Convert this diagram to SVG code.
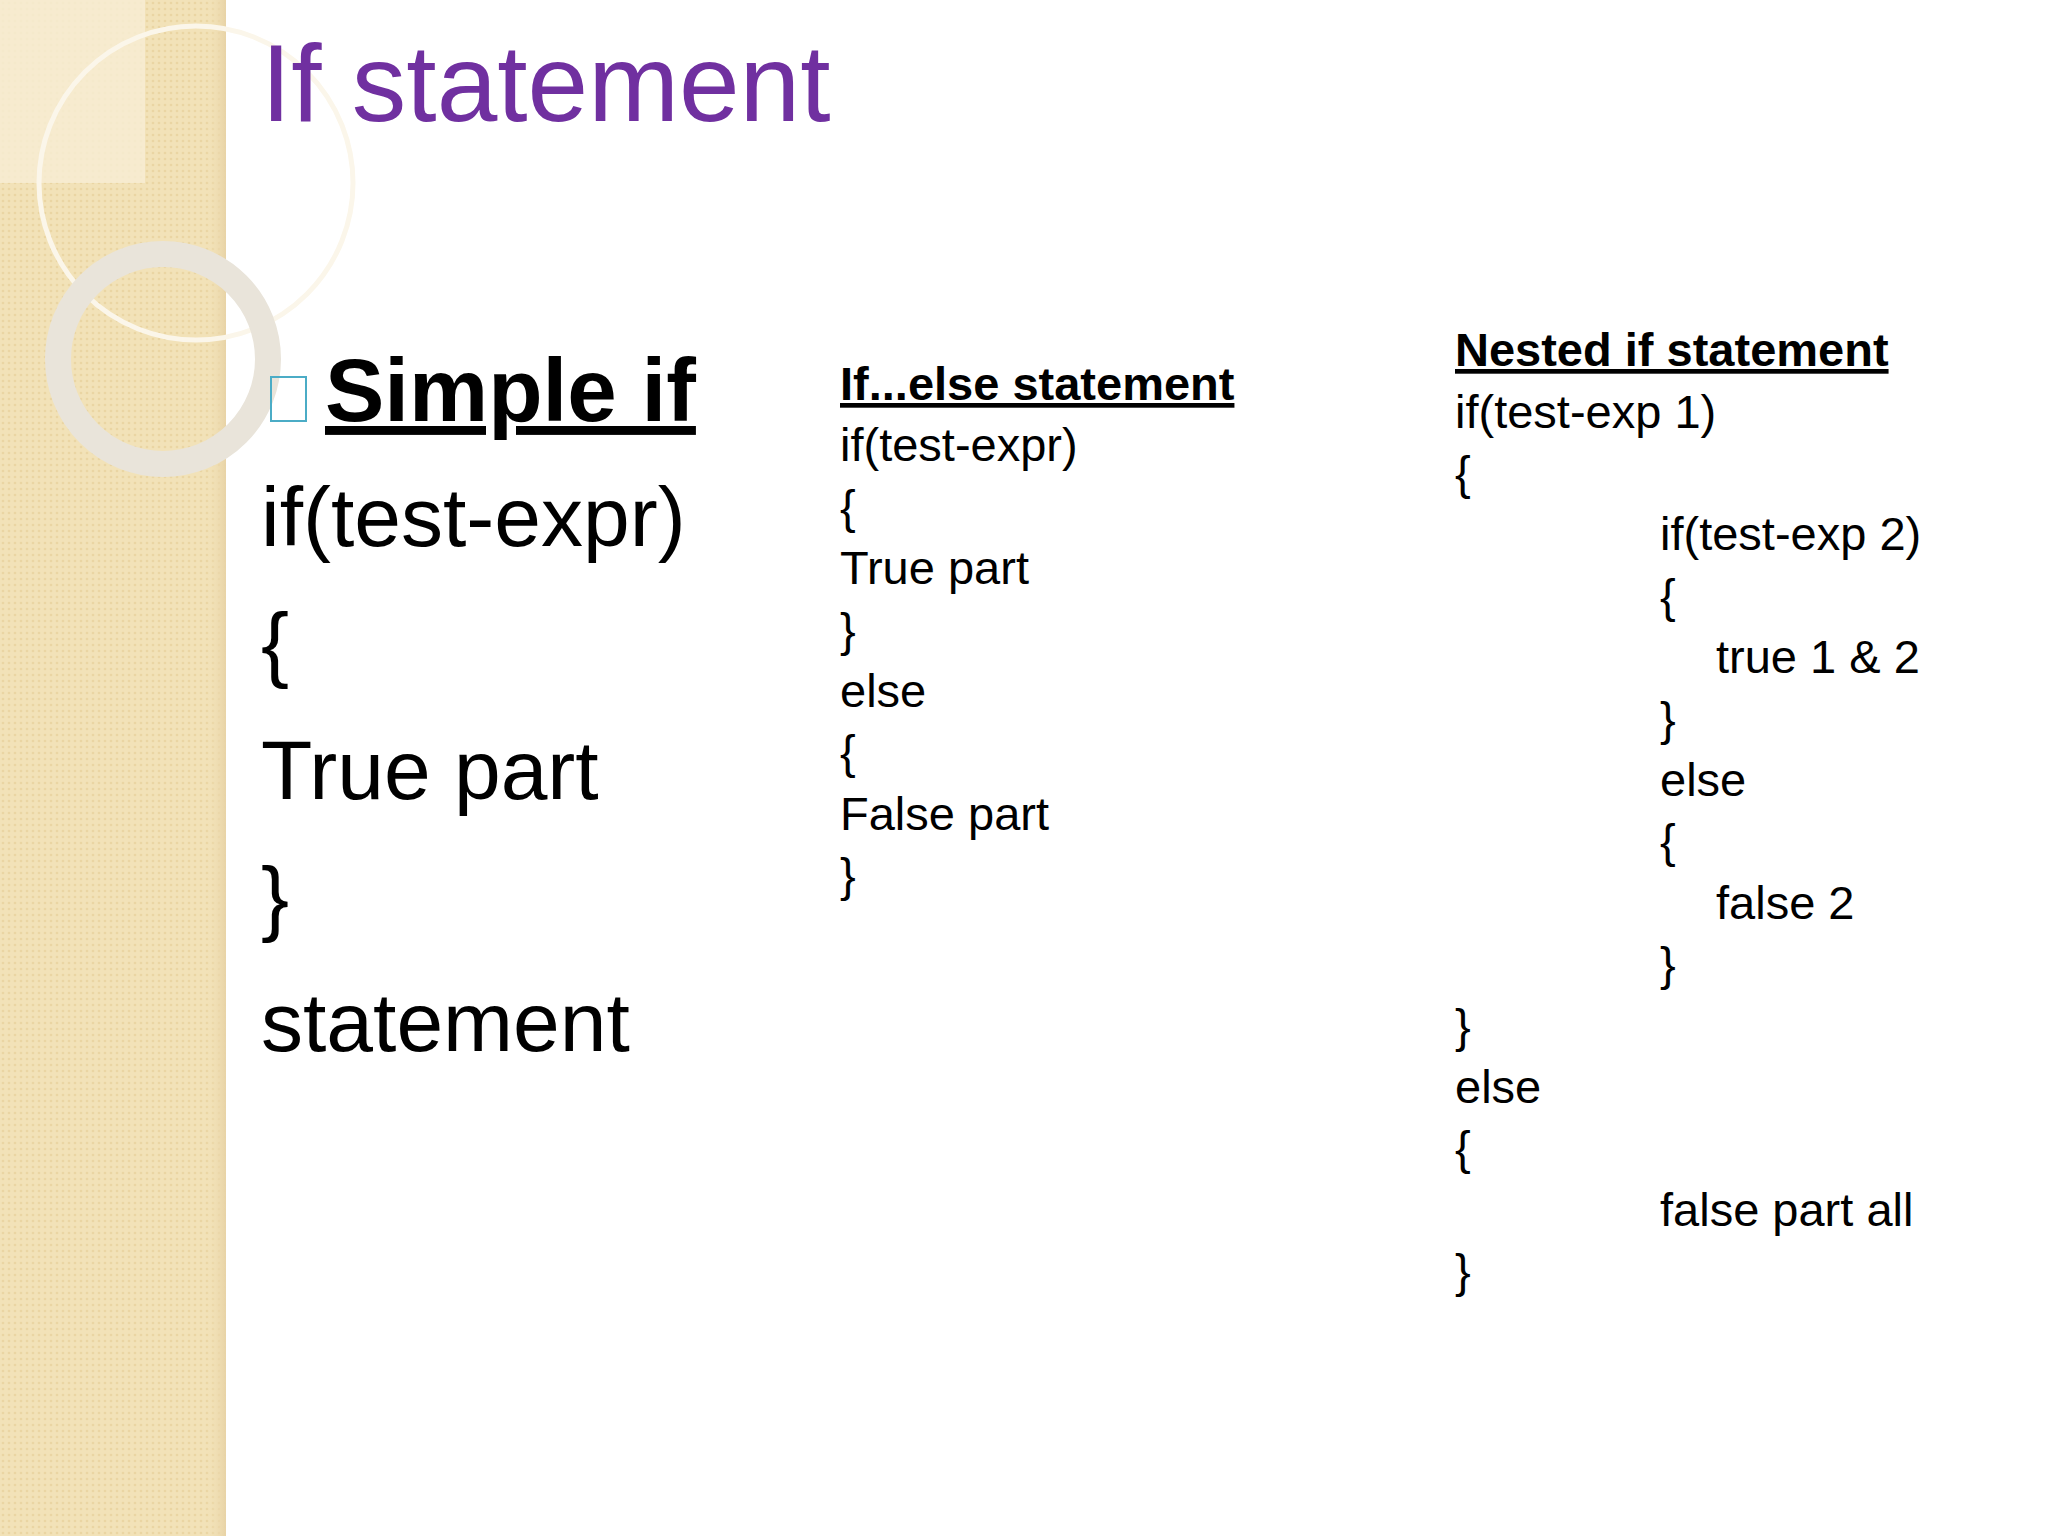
<svg xmlns="http://www.w3.org/2000/svg" width="2048" height="1536" viewBox="0 0 2048 1536">
<defs>
<pattern id="dots" width="6" height="6" patternUnits="userSpaceOnUse"><rect width="6" height="6" fill="#F2E2B8"/><circle cx="3" cy="3" r="1.3" fill="#EAD5A3"/></pattern>
<linearGradient id="edge" x1="0" x2="1"><stop offset="0" stop-color="#F2E2B8" stop-opacity="0"/><stop offset="1" stop-color="#E8D3A6"/></linearGradient>
</defs>
<style>
.t{font-family:"Liberation Sans",Arial,sans-serif;fill:#000}
.m{font-size:47px}
.b{font-weight:bold;text-decoration:underline}
</style>
<rect width="2048" height="1536" fill="#fff"/>
<g id="sidebar">
<rect width="226" height="1536" fill="url(#dots)"/>
<rect x="206" width="20" height="1536" fill="url(#edge)"/>
<rect x="0" y="0" width="145" height="183" fill="#F7EDD5" opacity="0.8"/>
<circle cx="196" cy="183" r="157" fill="none" stroke="#FBF6EA" stroke-width="5"/>
<circle cx="163" cy="359" r="105" fill="none" stroke="#E9E4DA" stroke-width="26"/>
</g>
<text class="t" x="261" y="121" font-size="109" style="fill:#7030A0">If statement</text>
<g id="simple">
<rect x="271" y="377" width="35" height="44" fill="none" stroke="#4BACC6" stroke-width="2"/>
<text class="t b" x="325" y="421" font-size="89">Simple if</text>
<text class="t" x="261" y="546" font-size="84">if(test-expr)</text>
<text class="t" x="261" y="672" font-size="84">{</text>
<text class="t" x="261" y="799" font-size="84">True part</text>
<text class="t" x="261" y="926" font-size="84">}</text>
<text class="t" x="261" y="1051" font-size="84">statement</text>
</g>
<g id="ifelse" class="t m">
<text class="t b" x="840" y="400">If...else statement</text>
<text class="t" x="840" y="461">if(test-expr)</text>
<text class="t" x="840" y="523">{</text>
<text class="t" x="840" y="584">True part</text>
<text class="t" x="840" y="646">}</text>
<text class="t" x="840" y="707">else</text>
<text class="t" x="840" y="768">{</text>
<text class="t" x="840" y="830">False part</text>
<text class="t" x="840" y="891">}</text>
</g>
<g id="nested" class="t m">
<text class="t b" x="1455" y="366">Nested if statement</text>
<text class="t" x="1455" y="428">if(test-exp 1)</text>
<text class="t" x="1455" y="489">{</text>
<text class="t" x="1660" y="550">if(test-exp 2)</text>
<text class="t" x="1660" y="612">{</text>
<text class="t" x="1716" y="673">true 1 &amp; 2</text>
<text class="t" x="1660" y="735">}</text>
<text class="t" x="1660" y="796">else</text>
<text class="t" x="1660" y="857">{</text>
<text class="t" x="1716" y="919">false 2</text>
<text class="t" x="1660" y="980">}</text>
<text class="t" x="1455" y="1042">}</text>
<text class="t" x="1455" y="1103">else</text>
<text class="t" x="1455" y="1164">{</text>
<text class="t" x="1660" y="1226">false part all</text>
<text class="t" x="1455" y="1287">}</text>
</g>
</svg>
